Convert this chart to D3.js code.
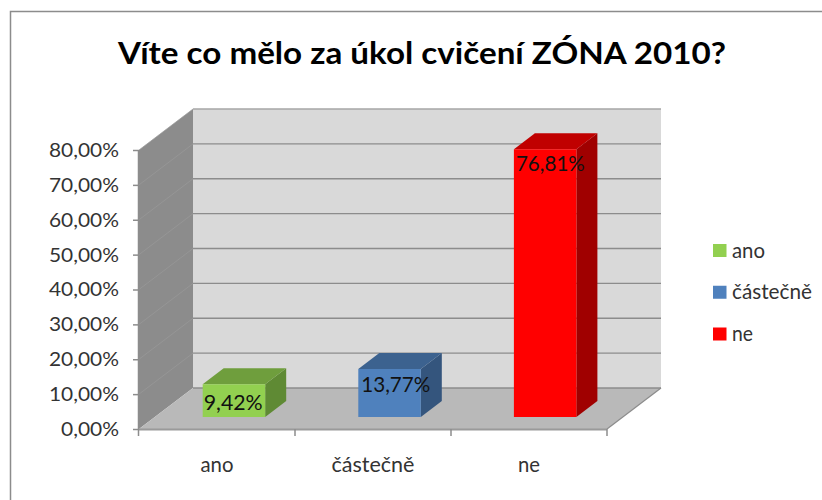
<!DOCTYPE html>
<html><head><meta charset="utf-8">
<script src="https://cdn.jsdelivr.net/npm/d3@7/dist/d3.min.js"></script>
<style>html,body{margin:0;padding:0;background:#fff}svg{display:block}</style></head>
<body><svg id="c" width="822" height="500"></svg>
<script>
const titleText = "Víte co mělo za úkol cvičení ZÓNA 2010?";
const categories = ["ano", "částečně", "ne"];
const values = [9.42, 13.77, 76.81];
const valueLabels = ["9,42%", "13,77%", "76,81%"];
const yTicks = [0, 10, 20, 30, 40, 50, 60, 70, 80];
const frontColors = ["#92d050", "#4f81bd", "#ff0000"];
const topColors = ["#6f9e3d", "#3c628f", "#c00000"];
const sideColors = ["#5f8a34", "#34557d", "#a00000"];

const FONT = "Lato, sans-serif";
const depth = {dx: 54, dy: -41}, barDepth = {dx: 21, dy: -16};
const barBase = 12, labelDy = [26, 23, 22], labelDx = [1, 3, 2];
const svg = d3.select("#c");
const x = d3.scaleBand().domain(categories).range([139, 607]);
const y = d3.scaleLinear().domain([0, 80]).range([429, 150]);
const fmt = d3.formatLocale({decimal: ",", thousands: " ", grouping: [3], currency: ["", ""]}).format(".2f");
const pts = a => a.map(p => p.join(",")).join(" ");
const poly = (a, f) => svg.append("polygon").attr("points", pts(a)).attr("fill", f);
const text = (t, px, py, size, len, o = {}) => svg.append("text").attr("x", px).attr("y", py)
  .attr("font-family", FONT).attr("font-size", size).attr("font-weight", o.w || 400)
  .attr("fill", o.f || "#333").attr("textLength", len).attr("lengthAdjust", "spacingAndGlyphs").text(t);

// frame
svg.append("path").attr("d", "M10.5,500V11.5H822").attr("fill", "none").attr("stroke", "#8c8c8c").attr("stroke-width", 1.5);
text(titleText, 118, 64, 30, 608, {w: 700, f: "#000"});

// walls and floor
const [x0, x1] = x.range(), y0 = y(0), yT = y(80);
poly([[x0, y0], [x0 + depth.dx, y0 + depth.dy], [x0 + depth.dx, yT + depth.dy], [x0, yT]], "#8c8c8c");
poly([[x0 + depth.dx, y0 + depth.dy], [x1 + depth.dx, y0 + depth.dy], [x1 + depth.dx, yT + depth.dy], [x0 + depth.dx, yT + depth.dy]], "#d9d9d9");
poly([[x0, y0], [x1, y0], [x1 + depth.dx, y0 + depth.dy], [x0 + depth.dx, y0 + depth.dy]], "#b9b9b9");

// gridlines
yTicks.forEach(t => {
  const v = y(t);
  if (t > 0) svg.append("line").attr("x1", x0).attr("y1", v).attr("x2", x0 + depth.dx).attr("y2", v + depth.dy).attr("stroke", "#999").attr("stroke-width", .7);
  svg.append("line").attr("x1", x0 + depth.dx).attr("y1", v + depth.dy).attr("x2", x1 + depth.dx).attr("y2", v + depth.dy)
    .attr("stroke", t === 80 ? "#a6a6a6" : "#8c8c8c").attr("stroke-width", 1.4);
});
svg.append("line").attr("x1", x1).attr("y1", y0).attr("x2", x1 + depth.dx).attr("y2", y0 + depth.dy).attr("stroke", "#8c8c8c").attr("stroke-width", 1.2);
svg.append("line").attr("x1", x0).attr("y1", y0 + .5).attr("x2", x1).attr("y2", y0 + .5).attr("stroke", "#9a9a9a").attr("stroke-width", 2);

// y axis
const axisY = d3.axisLeft(y).tickValues(yTicks).tickFormat(d => fmt(d) + "%").tickSize(6).tickPadding(14);
const gy = svg.append("g").attr("transform", `translate(${x0},0)`).call(axisY);
gy.select(".domain").attr("stroke", "#8c8c8c").attr("stroke-width", 1.5).attr("d", `M-0.5,${yT}V${y0 + 7}`);
gy.selectAll(".tick line").attr("stroke", "#8c8c8c").attr("stroke-width", 1.5);
gy.selectAll(".tick text").attr("font-family", FONT).attr("font-size", 20).attr("fill", "#333")
  .attr("textLength", d => d === 0 ? 58 : 70).attr("lengthAdjust", "spacingAndGlyphs");

// x axis
const axisX = d3.axisBottom(x).tickSize(0).tickPadding(28);
const gx = svg.append("g").attr("transform", `translate(0,${y0})`).call(axisX);
gx.select(".domain").remove();
gx.selectAll(".tick text").attr("font-family", FONT).attr("font-size", 21).attr("fill", "#333")
  .attr("textLength", (d, i) => [33, 83, 22][i]).attr("lengthAdjust", "spacingAndGlyphs");
[1, 2, 3].forEach(i => svg.append("line").attr("x1", x0 + i * x.bandwidth()).attr("x2", x0 + i * x.bandwidth()).attr("y1", y0).attr("y2", y0 + 7).attr("stroke", "#8c8c8c").attr("stroke-width", 1.5));

// bars
const barW = 62.5, barOff = 63.7;
categories.forEach((c, i) => {
  const l = x(c) + barOff - i * 0.4, r = l + barW, b = y0 - barBase, t = b - (y0 - y(values[i]));
  const d = barDepth;
  poly([[r, b], [r + d.dx, b + d.dy], [r + d.dx, t + d.dy], [r, t]], sideColors[i]);
  poly([[l, t], [r, t], [r + d.dx, t + d.dy], [l + d.dx, t + d.dy]], topColors[i]);
  poly([[l, b], [r, b], [r, t], [l, t]], frontColors[i]);
  text(valueLabels[i], l + labelDx[i], t + labelDy[i], 21, i === 0 ? 59 : 69, {f: "#111"});
});

// legend
const legY = d3.scalePoint().domain(categories).range([250.5, 334]);
categories.forEach((c, i) => {
  svg.append("rect").attr("x", 713).attr("y", legY(c) - 6.5).attr("width", 13.5).attr("height", 13).attr("fill", frontColors[i]);
  text(c, 732, legY(c) + 7, 21, [33, 80, 21][i]);
});
</script></body></html>
